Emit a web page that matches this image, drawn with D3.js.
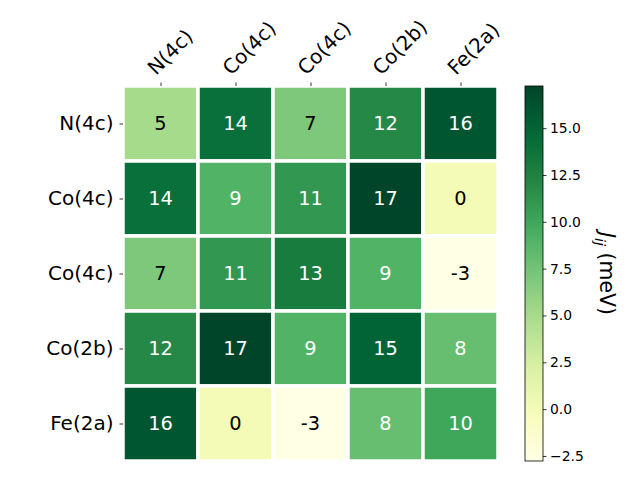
<!DOCTYPE html>
<html>
<head>
<meta charset="utf-8">
<script src="https://cdn.jsdelivr.net/npm/d3@7"></script>
<style>
html,body{margin:0;padding:0;background:#fff;}
svg{display:block;}
svg text{font-family:"DejaVu Sans",sans-serif !important;}
</style>
</head>
<body>
<svg id="chart" width="640" height="480"></svg>
<script>
// ---- data ----
const labels = ["N(4c)", "Co(4c)", "Co(4c)", "Co(2b)", "Fe(2a)"];
const row0 = [5, 14, 7, 12, 16];
const row1 = [14, 9, 11, 17.25, 0];
const row2 = [7, 11, 13, 9, -2.77];
const row3 = [12, 17.25, 9, 15, 8];
const row4 = [16, 0, -2.77, 8, 10];
const matrix = [row0, row1, row2, row3, row4];
const cbTicks = [-2.5, 0.0, 2.5, 5.0, 7.5, 10.0, 12.5, 15.0];
const ylgnStops = ["#ffffe5","#f7fcb9","#d9f0a3","#addd8e","#78c679","#41ab5d","#238443","#006837","#004529"];

// ---- layout ----
const FONT = "DejaVu Sans";
const svg = d3.select("#chart");
const ax = {x0: 123, x1: 498, y0: 86, y1: 461};
const cb = {x0: 525, x1: 543, y0: 86, y1: 461};

const flat = matrix.flat();
const vmin = d3.min(flat), vmax = d3.max(flat);

const cmap = d3.scaleLinear()
  .domain(d3.range(ylgnStops.length).map(i => i / (ylgnStops.length - 1)))
  .range(ylgnStops)
  .interpolate(d3.interpolateRgb);
const norm = d3.scaleLinear().domain([vmin, vmax]).range([0, 1]).clamp(true);
const color = v => cmap(norm(v));

const x = d3.scaleBand().domain(d3.range(5)).range([ax.x0, ax.x1]);
const y = d3.scaleBand().domain(d3.range(5)).range([ax.y0, ax.y1]);

const cells = [];
matrix.forEach((row, i) => row.forEach((v, j) => cells.push({i, j, v})));

const g = svg.append("g");
g.selectAll("rect.cell").data(cells).enter().append("rect")
  .attr("class", "cell")
  .attr("x", d => x(d.j))
  .attr("y", d => y(d.i))
  .attr("width", x.bandwidth())
  .attr("height", y.bandwidth())
  .attr("fill", d => color(d.v))
  .attr("stroke", "#fff")
  .attr("stroke-width", 3.5);

const thresh = 0.5;
g.selectAll("text.ann").data(cells).enter().append("text")
  .attr("class", "ann")
  .attr("font-family", FONT)
  .attr("x", d => x(d.j) + x.bandwidth() / 2)
  .attr("y", d => y(d.i) + y.bandwidth() / 2)
  .attr("text-anchor", "middle")
  .attr("dominant-baseline", "central")
  .attr("font-size", "19.4px")
  .attr("fill", d => norm(d.v) > thresh ? "#fff" : "#000")
  .text(d => d3.format(".0f")(d.v).replace("−", "-"));

// top axis
const xAxis = d3.axisTop(d3.scalePoint().domain(d3.range(5)).range([x(0) + x.bandwidth()/2, x(4) + x.bandwidth()/2]))
  .tickSize(3.5).tickPadding(3).tickFormat(i => labels[i]);
const gx = svg.append("g").attr("transform", `translate(0,${ax.y0})`).call(xAxis);
gx.attr("font-family", FONT);
gx.select(".domain").remove();
gx.selectAll(".tick line").attr("stroke", "#000").attr("stroke-width", 0.8);
gx.selectAll(".tick text")
  .attr("font-size", "20px").attr("fill", "#000")
  .attr("text-anchor", "start")
  .attr("dy", null)
  .attr("y", 0)
  .attr("transform", "translate(-5,-10) rotate(-45)");

// left axis
const yAxis = d3.axisLeft(d3.scalePoint().domain(d3.range(5)).range([y(0) + y.bandwidth()/2, y(4) + y.bandwidth()/2]))
  .tickSize(3.5).tickPadding(6).tickFormat(i => labels[i]);
const gy = svg.append("g").attr("transform", `translate(${ax.x0},0)`).call(yAxis);
gy.attr("font-family", FONT);
gy.select(".domain").remove();
gy.selectAll(".tick line").attr("stroke", "#000").attr("stroke-width", 0.8);
gy.selectAll(".tick text").attr("font-size", "20px").attr("fill", "#000");

// colorbar
const defs = svg.append("defs");
const grad = defs.append("linearGradient").attr("id", "cbgrad")
  .attr("x1", 0).attr("y1", 1).attr("x2", 0).attr("y2", 0);
d3.range(0, 1.0001, 0.05).forEach(t => {
  grad.append("stop").attr("offset", t).attr("stop-color", cmap(t));
});
svg.append("rect")
  .attr("x", cb.x0).attr("y", cb.y0)
  .attr("width", cb.x1 - cb.x0).attr("height", cb.y1 - cb.y0)
  .attr("fill", "url(#cbgrad)")
  .attr("stroke", "#000").attr("stroke-width", 0.8);

const cbScale = d3.scaleLinear().domain([vmin, vmax]).range([cb.y1, cb.y0]);
const cbAxis = d3.axisRight(cbScale).tickValues(cbTicks).tickSize(3.5).tickPadding(3.5)
  .tickFormat(d3.format(".1f"));
const gc = svg.append("g").attr("transform", `translate(${cb.x1},0)`).call(cbAxis);
gc.attr("font-family", FONT);
gc.select(".domain").remove();
gc.selectAll(".tick line").attr("stroke", "#000").attr("stroke-width", 0.8);
gc.selectAll(".tick text").attr("font-size", "13.9px").attr("fill", "#000");

// colorbar label
const lab = svg.append("text")
  .attr("font-family", FONT)
  .attr("transform", `translate(600,${(cb.y0 + cb.y1) / 2}) rotate(90)`)
  .attr("text-anchor", "middle")
  .attr("font-size", "20.5px")
  .attr("fill", "#000");
lab.append("tspan").attr("font-style", "italic").text("J");
lab.append("tspan").attr("font-style", "italic").attr("font-size", "14.4px").attr("dy", "5").text("ij");
lab.append("tspan").attr("dy", "-5").text(" (meV)");
</script>
</body>
</html>
